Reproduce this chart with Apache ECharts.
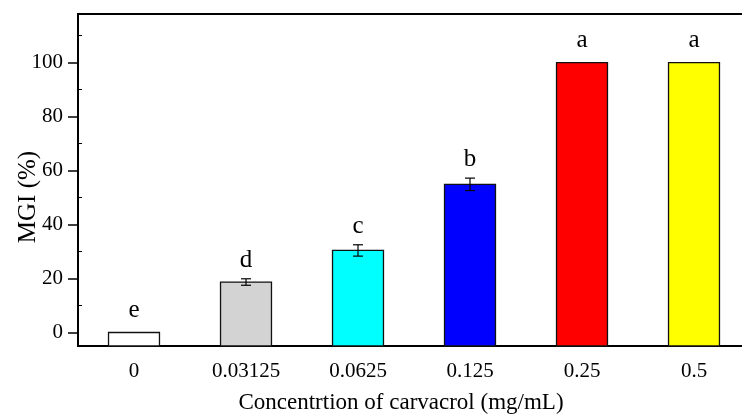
<!DOCTYPE html>
<html>
<head>
<meta charset="utf-8">
<script src="https://cdn.jsdelivr.net/npm/echarts@6/dist/echarts.min.js"></script>
<style>html,body{margin:0;padding:0;background:#fff;}#c{width:742px;height:416px;}</style>
</head>
<body>
<div id="c"></div>
<script>
const categories = ['0', '0.03125', '0.0625', '0.125', '0.25', '0.5'];
const values = [0, 18.7, 30.4, 54.9, 100, 100];
const errors = [0, 1.2, 2.1, 2.3, 0, 0];
const letters = ['e', 'd', 'c', 'b', 'a', 'a'];
const colors = ['#ffffff', '#d3d3d3', '#00ffff', '#0000ff', '#ff0000', '#ffff00'];
const yTicks = [0, 20, 40, 60, 80, 100];
const yMinorTicks = [10, 30, 50, 70, 90, 110];
const Y_MIN = -5, Y_MAX = 118;

const FONT = '"Liberation Serif", "Times New Roman", serif';
const chart = echarts.init(document.getElementById('c'), null, {renderer: 'canvas'});

const barData = categories.map((c, i) => [i, values[i], errors[i]]);

chart.setOption({
  animation: false,
  backgroundColor: '#fff',
  grid: {left: 78, top: 14, width: 672, bottom: 70, outerBoundsMode: 'none', containLabel: false,
    show: true, borderColor: '#000', borderWidth: 2, backgroundColor: 'transparent'},
  xAxis: [{
    type: 'category', data: categories, boundaryGap: true,
    name: 'Concentrtion of carvacrol (mg/mL)', nameLocation: 'middle', nameGap: 45, nameMoveOverlap: false,
    nameTextStyle: {fontFamily: FONT, fontSize: 23, color: '#000', padding: [0, 26, 0, 0]},
    axisLine: {onZero: false, lineStyle: {color: '#000', width: 2}},
    axisTick: {alignWithLabel: true, length: 10, lineStyle: {color: '#000', width: 1.5}},
    axisLabel: {fontFamily: FONT, fontSize: 21, color: '#000', margin: 15, interval: 0},
    splitLine: {show: false}
  }, {
    type: 'category', data: categories, boundaryGap: true, position: 'bottom',
    axisLine: {show: false, onZero: false},
    axisTick: {inside: true, length: 4, lineStyle: {color: '#000', width: 1}},
    axisLabel: {show: false}, splitLine: {show: false}
  }],
  yAxis: [{
    type: 'value', min: Y_MIN, max: Y_MAX,
    name: 'MGI (%)', nameLocation: 'middle', nameGap: 37, nameMoveOverlap: false,
    nameTextStyle: {fontFamily: FONT, fontSize: 25, color: '#000', padding: [0, 34, 0, 0]},
    axisLine: {show: true, onZero: false, lineStyle: {color: '#000', width: 2}},
    axisTick: {show: true, length: 10, customValues: yTicks, lineStyle: {color: '#000', width: 1.5}},
    axisLabel: {fontFamily: FONT, fontSize: 21, color: '#000', margin: 15, customValues: yTicks},
    splitLine: {show: false}
  }, {
    type: 'value', min: Y_MIN, max: Y_MAX, position: 'left',
    axisLine: {show: false, onZero: false},
    axisTick: {show: true, inside: true, length: 4, customValues: yMinorTicks, lineStyle: {color: '#000', width: 1}},
    axisLabel: {show: false, customValues: yMinorTicks},
    splitLine: {show: false}
  }],
  series: [{
    type: 'custom', xAxisIndex: 0, yAxisIndex: 0, data: barData, clip: false,
    renderItem: function (params, api) {
      const i = api.value(0), v = api.value(1), e = api.value(2);
      const top = api.coord([i, v]);
      const base = api.coord([i, Y_MIN]);
      const w = api.size([1, 0])[0] * 0.455;
      const children = [{
        type: 'rect',
        shape: {x: top[0] - w / 2, y: top[1], width: w, height: base[1] - top[1]},
        style: {fill: colors[i], stroke: '#111', lineWidth: 1.3}
      }];
      let labelY = top[1] - 15;
      if (e > 0) {
        const hi = api.coord([i, v + e]), lo = api.coord([i, v - e]);
        const cw = 5;
        children.push({type: 'line', shape: {x1: top[0], y1: hi[1], x2: top[0], y2: lo[1]}, style: {stroke: '#000', lineWidth: 1.2}});
        children.push({type: 'line', shape: {x1: top[0] - cw, y1: hi[1], x2: top[0] + cw, y2: hi[1]}, style: {stroke: '#000', lineWidth: 1.2}});
        children.push({type: 'line', shape: {x1: top[0] - cw, y1: lo[1], x2: top[0] + cw, y2: lo[1]}, style: {stroke: '#000', lineWidth: 1.2}});
        labelY = hi[1] - 11;
      }
      children.push({
        type: 'text',
        style: {text: letters[i], x: top[0], y: labelY + 5, align: 'center', verticalAlign: 'bottom',
          font: '25px ' + FONT, fill: '#000'}
      });
      return {type: 'group', children: children};
    }
  }]
});
</script>
</body>
</html>
